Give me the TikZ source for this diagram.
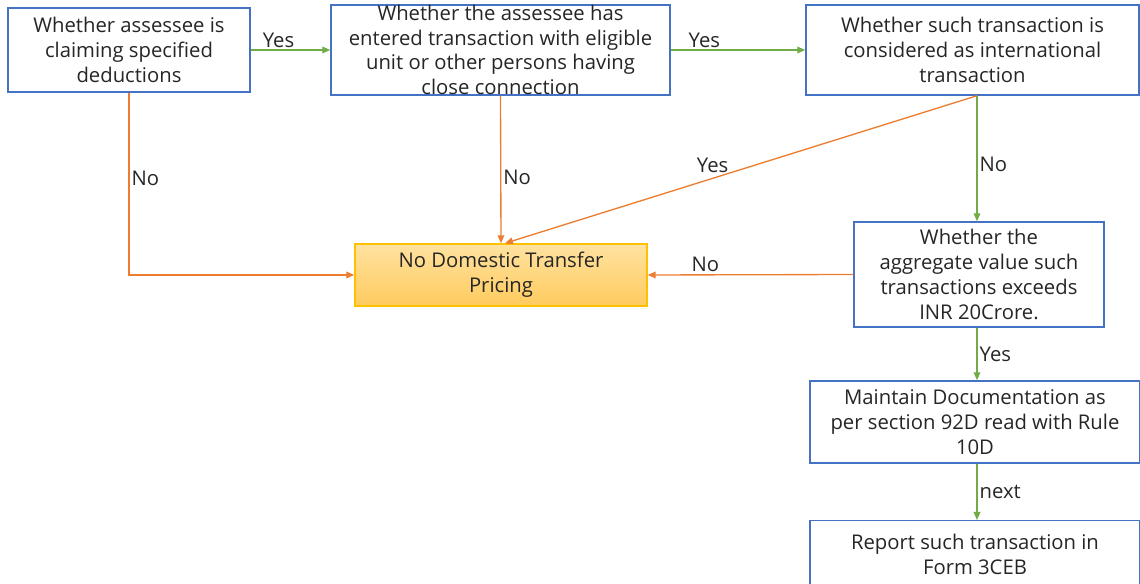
\documentclass[tikz,border=0pt]{standalone}
\usepackage{fontspec}
\setmainfont{Open Sans}
\usetikzlibrary{arrows.meta,calc}
\definecolor{boxblue}{HTML}{4472C4}
\definecolor{lgreen}{HTML}{70AD47}
\definecolor{lorange}{HTML}{ED7D31}
\definecolor{goldb}{HTML}{FFC000}
\definecolor{goldtop}{HTML}{FFE2A0}
\definecolor{goldbot}{HTML}{FFCB5E}
\begin{document}
\begin{tikzpicture}[x=0.75pt,y=-0.75pt,
  every node/.style={font=\fontsize{15.2}{18.6}\selectfont, text=black!85},
  qbox/.style={draw=boxblue, line width=1.1pt, fill=white, align=center, inner sep=0pt},
  resbox/.style={draw=goldb, line width=1.1pt, top color=goldtop, bottom color=goldbot, align=center, inner sep=0pt},
  garrow/.style={draw=lgreen, line width=1pt, -{Triangle[length=6pt,width=5pt]}},
  oarrow/.style={draw=lorange, line width=1pt, -{Triangle[length=6pt,width=5pt]}},
  lbl/.style={font=\fontsize{15.2}{17}\selectfont, inner sep=1.5pt}
]
\useasboundingbox (0,0) rectangle (1140,584);
\clip (0,0) rectangle (1140,584);
% boxes
\node[qbox, minimum width=242*0.75pt, minimum height=84*0.75pt] (A) at (129,50)
  {Whether assessee is\\claiming specified\\deductions};
\node[qbox, minimum width=339*0.75pt, minimum height=90*0.75pt] (B) at (500.5,50)
  {Whether the assessee has\\entered transaction with eligible\\unit or other persons having\\close connection};
\node[qbox, minimum width=333*0.75pt, minimum height=90*0.75pt] (C) at (972.5,50)
  {Whether such transaction is\\considered as international\\transaction};
\node[resbox, minimum width=292*0.75pt, minimum height=62*0.75pt] (D) at (501,275)
  {No Domestic Transfer\\Pricing};
\node[qbox, minimum width=250*0.75pt, minimum height=105*0.75pt] (E) at (979,274.5)
  {Whether the\\aggregate value such\\transactions exceeds\\INR 20Crore.};
\node[qbox, minimum width=330*0.75pt, minimum height=82*0.75pt] (F) at (975,422)
  {Maintain Documentation as\\per section 92D read with Rule\\10D};
\node[qbox, minimum width=330*0.75pt, minimum height=80*0.75pt, anchor=north] (G) at (975,520)
  {};
\node[align=center] (Gt) at (975,554.5) {Report such transaction in\\Form 3CEB};
% connectors
\draw[garrow] (A.east) -- node[lbl, above, pos=0.35] {Yes} (B.west);
\draw[garrow] (B.east) -- node[lbl, above, pos=0.25] {Yes} (C.west);
\draw[oarrow] (A.south) |- node[lbl, right, pos=0.236] {No} (D.west);
\draw[oarrow] (B.south) -- node[lbl, right, pos=0.55] {No} (D.north);
\draw[oarrow] ([xshift=4.5*0.75pt]C.south) -- node[lbl, above, pos=0.56, yshift=2pt] {Yes} ([xshift=4*0.75pt]D.north);
\draw[garrow] ([xshift=4.5*0.75pt]C.south) -- node[lbl, right, pos=0.55] {No} ([xshift=-2*0.75pt]E.north);
\draw[oarrow] (E.west) -- node[lbl, above, pos=0.72] {No} (D.east);
\draw[garrow] ([xshift=-2*0.75pt]E.south) -- node[lbl, right, pos=0.5] {Yes} ([xshift=2*0.75pt]F.north);
\draw[garrow] ([xshift=2*0.75pt]F.south) -- node[lbl, right, pos=0.5] {next} ([xshift=2*0.75pt]G.north);
\end{tikzpicture}
\end{document}
